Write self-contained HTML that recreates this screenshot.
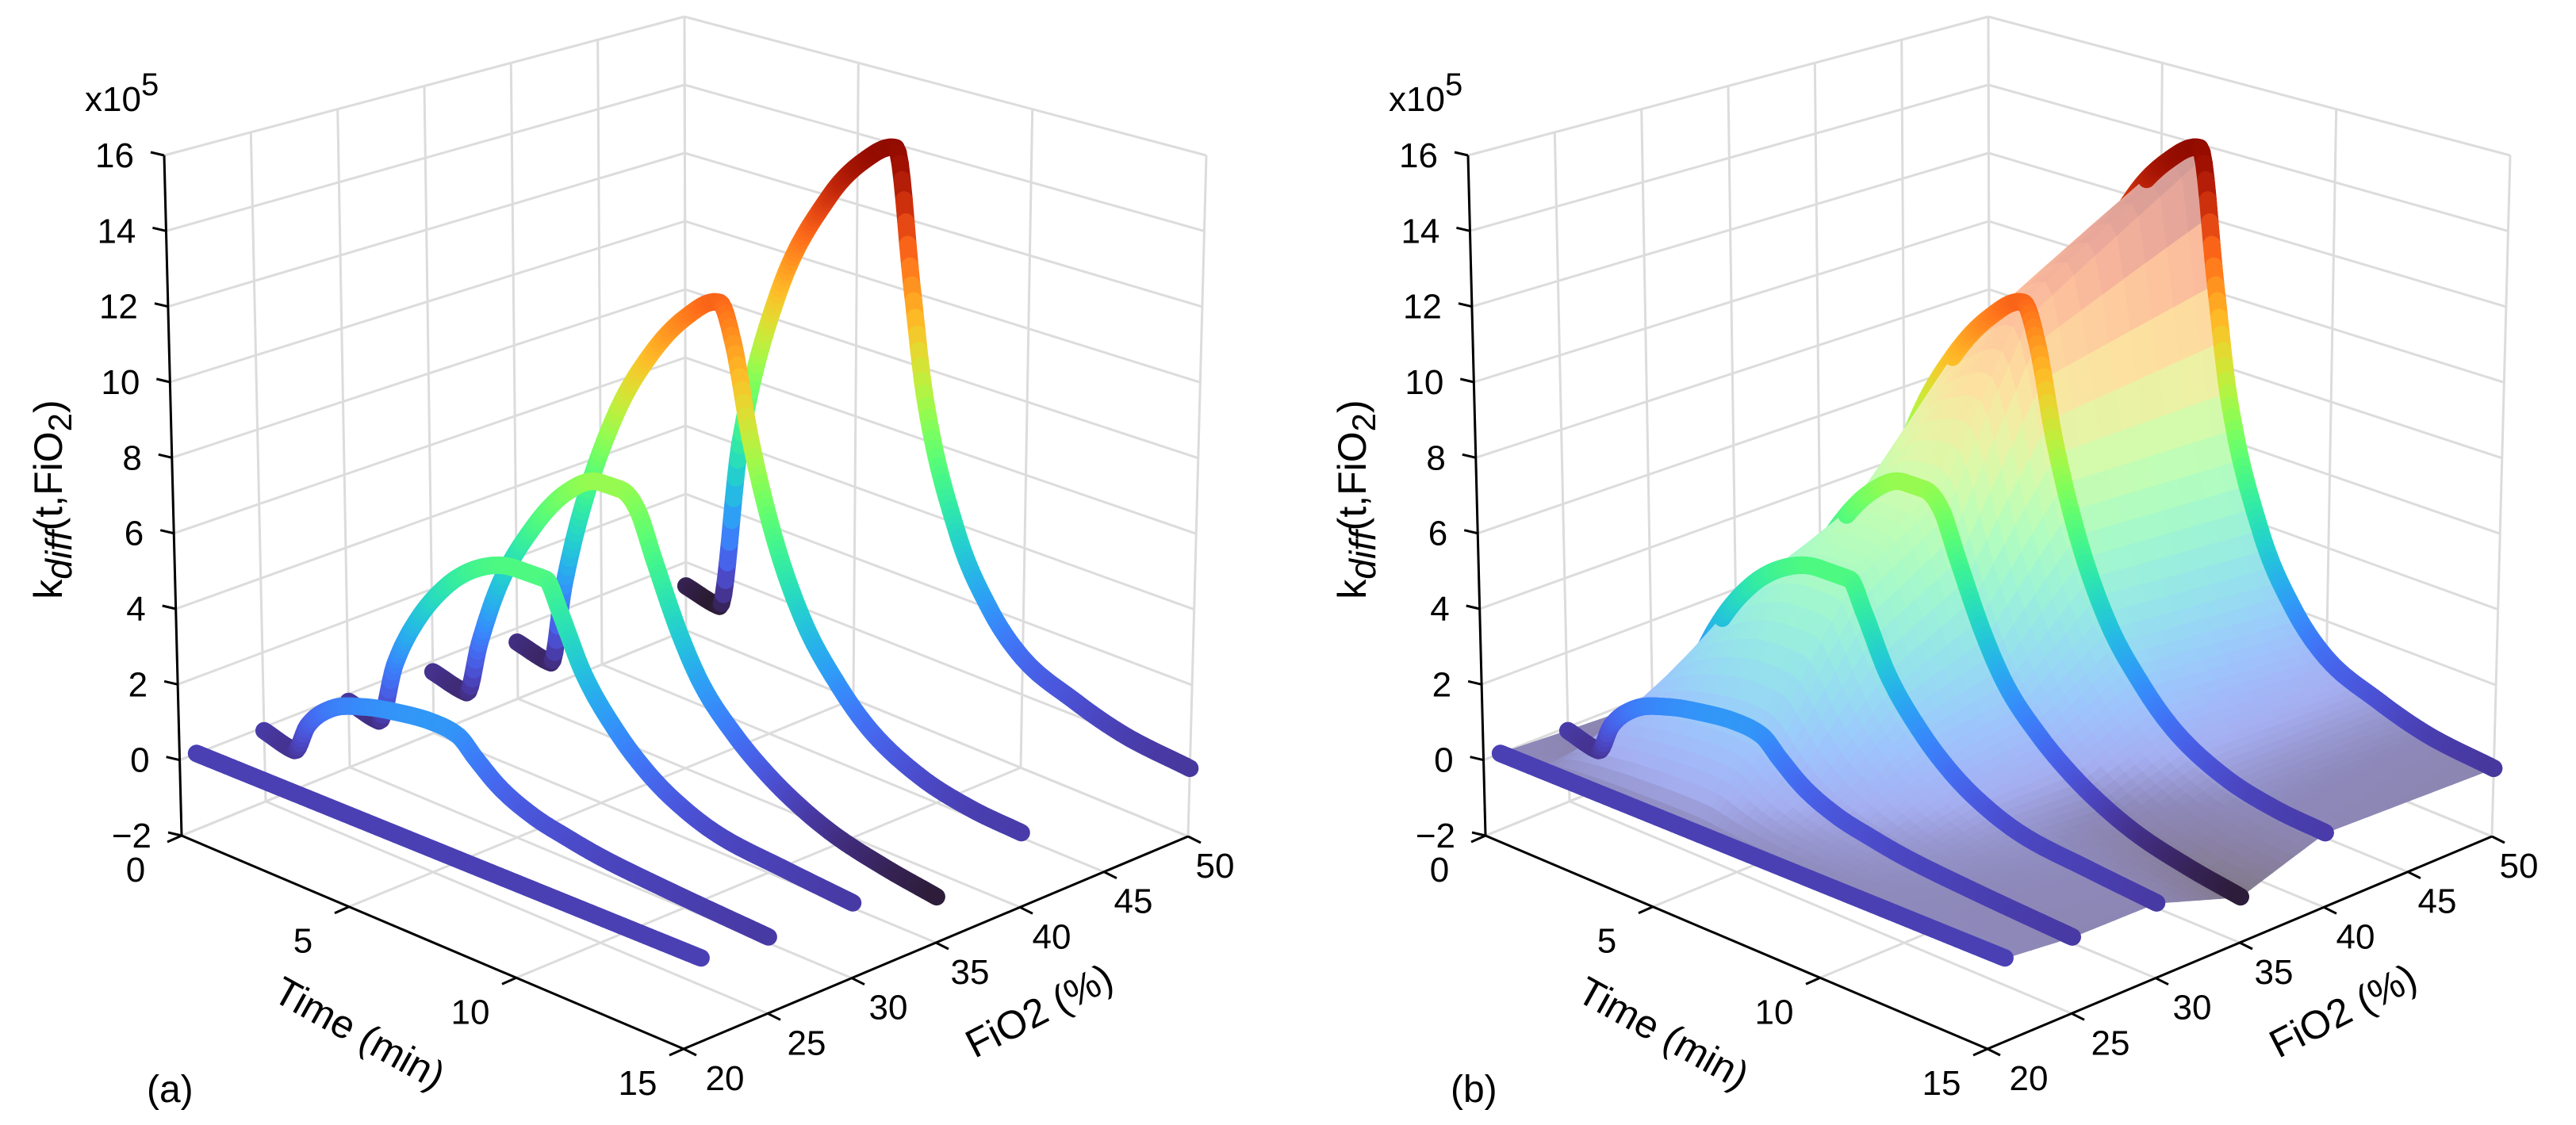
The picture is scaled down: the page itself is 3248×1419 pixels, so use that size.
<!DOCTYPE html>
<html><head><meta charset="utf-8">
<style>
html,body{margin:0;padding:0;background:#fff;}
svg{display:block;font-family:"Liberation Sans",Arial,sans-serif;}
</style></head>
<body>
<svg id="fig" width="3248" height="1419" viewBox="0 0 3248 1419" xmlns="http://www.w3.org/2000/svg">
<rect width="3248" height="1419" fill="#fff"/>
</svg>
<script>
// ---------- data ----------
const fio2Levels = [21, 25, 30, 35, 40, 50];
const t21 = [0, 5, 10, 15];
const k21 = [0, 0, 0, 0];
const t25 = [0, 0.9, 1.3, 2, 3, 4, 5, 5.8, 6.3, 7, 8, 9, 10, 12, 15];
const k25 = [-0.1, -0.3, 0.5, 1.2, 1.6, 1.8, 1.9, 1.8, 1.4, 0.9, 0.5, 0.3, 0.15, 0.0, -0.15];
const t30 = [0, 0.9, 1.4, 2, 3, 4, 5, 5.9, 6.3, 7, 8, 9, 10, 11, 13, 15];
const k30 = [-0.2, -0.4, 1.3, 2.6, 4.0, 4.8, 5.1, 5.1, 4.4, 3.0, 1.8, 1.0, 0.5, 0.2, 0.0, -0.15];
const t35 = [0, 1, 1.4, 2, 3, 4, 5, 5.6, 6.1, 6.6, 7.3, 8, 9, 10, 11, 12, 13.5, 15];
const k35 = [-0.3, -0.5, 1.0, 2.8, 4.7, 6.0, 6.6, 6.6, 6.2, 5.0, 3.4, 2.2, 1.2, 0.5, 0.0, -0.35, -0.65, -0.85];
const t40 = [0, 1, 1.4, 2, 3, 4, 5, 6.0, 6.4, 6.9, 7.6, 8.5, 9.5, 10.5, 12, 13.5, 15];
const k40 = [-0.4, -0.6, 1.7, 4.2, 7.1, 9.0, 10.3, 11.0, 10.0, 7.6, 5.2, 3.2, 1.9, 1.0, 0.3, 0.0, -0.1];
const t50 = [0, 1, 1.6, 2.7, 4.2, 5.2, 6.1, 6.6, 7.0, 8, 9, 10, 11.5, 13, 15];
const k50 = [-0.7, -0.9, 4.0, 8.7, 12.0, 13.3, 13.9, 10.2, 7.3, 3.8, 2.0, 1.0, 0.4, 0.0, -0.2];
const zTicks = [-2, 0, 2, 4, 6, 8, 10, 12, 14, 16];
const tTicks = [0, 5, 10, 15];
const fTicks = [20, 25, 30, 35, 40, 45, 50];

const curveT = [t21, t25, t30, t35, t40, t50];
const curveK = [k21, k25, k30, k35, k40, k50];

// ---------- projection ----------
const C = {
  '000':[229,1054], '100':[862,1323], '110':[1498,1055], '010':[865,795],
  '001':[207,196],  '101':[868,368],  '111':[1521,196],  '011':[863,21]
};
function proj(t, f, z, ox){
  const u=t/15, v=(f-20)/30, w=(z+2)/18;
  let x=0,y=0;
  for(const a of [0,1])for(const b of [0,1])for(const c of [0,1]){
    const wt=(a?u:1-u)*(b?v:1-v)*(c?w:1-w);
    const p=C[''+a+b+c]; x+=wt*p[0]; y+=wt*p[1];
  }
  return [x+ox,y];
}
function turbo(x){
  x=Math.max(0,Math.min(1,x));
  const r=0.13572138+x*(4.61539260+x*(-42.66032258+x*(132.13108234+x*(-152.94239396+x*59.28637943))));
  const g=0.09140261+x*(2.19418839+x*(4.84296658+x*(-14.18503333+x*(4.27729857+x*2.82956604))));
  const b=0.10667330+x*(12.64194608+x*(-60.58204836+x*(110.36276771+x*(-89.90310912+x*27.34824973))));
  return [r,g,b].map(c=>Math.round(255*Math.max(0,Math.min(1,c))));
}
const CMIN=-1, CMAX=14.2;
function cnorm(z){return (z-CMIN)/(CMAX-CMIN);}
function rgb(c){return 'rgb('+c[0]+','+c[1]+','+c[2]+')';}

function sample(ts, ks){
  const n=ts.length, d=[], m=[];
  for(let i=0;i<n-1;i++) d.push((ks[i+1]-ks[i])/(ts[i+1]-ts[i]));
  m.push(d[0]);
  for(let i=1;i<n-1;i++) m.push(d[i-1]*d[i]<=0?0:(d[i-1]+d[i])/2);
  m.push(d[n-2]);
  for(let i=0;i<n-1;i++){
    if(d[i]===0){m[i]=0;m[i+1]=0;continue;}
    const a=m[i]/d[i], b=m[i+1]/d[i], s=a*a+b*b;
    if(s>9){const tau=3/Math.sqrt(s); m[i]=tau*a*d[i]; m[i+1]=tau*b*d[i];}
  }
  const out=[];
  for(let i=0;i<n-1;i++){
    const h=ts[i+1]-ts[i];
    const steps=Math.max(4,Math.ceil(h*16));
    for(let s=0;s<steps;s++){
      const q=s/steps,q2=q*q,q3=q2*q;
      const y=(2*q3-3*q2+1)*ks[i]+(q3-2*q2+q)*h*m[i]+(-2*q3+3*q2)*ks[i+1]+(q3-q2)*h*m[i+1];
      out.push([ts[i]+q*h,y]);
    }
  }
  out.push([ts[n-1],ks[n-1]]);
  return out;
}
const sampled = curveT.map((ts,i)=>sample(ts,curveK[i]));
function valAt(i,t){
  const s=sampled[i];
  for(let j=0;j<s.length-1;j++){
    if(t>=s[j][0] && t<=s[j+1][0]){
      const d=s[j+1][0]-s[j][0]; const q=d>0?(t-s[j][0])/d:0;
      return s[j][1]+q*(s[j+1][1]-s[j][1]);
    }
  }
  return s[s.length-1][1];
}
const visFrac = [0, 0, 0.55, 0.78, 0.8, 0.9];

const NS='http://www.w3.org/2000/svg';
const svg=document.getElementById('fig');
function el(tag, attrs, parent){
  const e=document.createElementNS(NS,tag);
  for(const k in attrs) e.setAttribute(k,attrs[k]);
  (parent||svg).appendChild(e); return e;
}

function drawPanel(ox, label, withSurface){
  const g=el('g',{});
  
  
  const grid=el('g',{stroke:'#dcdcdc','stroke-width':3,fill:'none'},g);
  
  
  const line=(a,b,par,attrs)=>el('line',Object.assign({x1:a[0].toFixed(1),y1:a[1].toFixed(1),x2:b[0].toFixed(1),y2:b[1].toFixed(1)},attrs||{}),par);
  for(const f of fTicks){ const l=line(proj(0,f,-2,ox),proj(0,f,16,ox),grid);
      }
  for(const z of zTicks){ const l=line(proj(0,20,z,ox),proj(0,50,z,ox),grid);
     
    const l2=line(proj(0,50,z,ox),proj(15,50,z,ox),grid);
      }
  for(const t of tTicks){ const l=line(proj(t,50,-2,ox),proj(t,50,16,ox),grid);
     
    const l2=line(proj(t,20,-2,ox),proj(t,50,-2,ox),grid);
      }
  for(const f of fTicks){ const l=line(proj(0,f,-2,ox),proj(15,f,-2,ox),grid);
      }

  const ax=el('g',{stroke:'#000','stroke-width':3,fill:'none'},g);
  
  
  const za=line(proj(0,20,-2,ox),proj(0,20,16,ox),ax);
   
  const ta=line(proj(0,20,-2,ox),proj(15,20,-2,ox),ax);
   
  const fa=line(proj(15,20,-2,ox),proj(15,50,-2,ox),ax);
   

  const txt=(x,y,s,attrs,name)=>{const t=el('text',Object.assign({x:x.toFixed(1),y:y.toFixed(1),'font-size':44,fill:'#000'},attrs||{}),g);t.textContent=s;
      return t;};
  for(const z of zTicks){
    const p=proj(0,20,z,ox);
    const tk=line(p,[p[0]-17,p[1]-4],ax);  
    txt(p[0]-38,p[1]+15,(z<0?'\u2212':'')+Math.abs(z),{'text-anchor':'end'},'z-tick-label');
  }
  for(const t of tTicks){
    const p=proj(t,20,-2,ox);
    const tk=line(p,[p[0]-18,p[1]+8],ax);  
    txt(p[0]-58,p[1]+58,''+t,{'text-anchor':'middle'},'time-tick-label');
  }
  for(const f of fTicks){
    const p=proj(15,f,-2,ox);
    const tk=line(p,[p[0]+16,p[1]+8],ax);  
    txt(p[0]+52-(f-20)/30*18,p[1]+52,''+f,{'text-anchor':'middle'},'fio2-tick-label');
  }
  const ex=txt(ox+107,140,'x10',{'font-size':44},'z-exponent');
  const sup=el('tspan',{dy:-20,'font-size':40},ex); sup.textContent='5';
  const zt=el('text',{transform:'translate('+(ox+78)+',630) rotate(-90)','text-anchor':'middle','font-size':50},g);
   
  const a1=el('tspan',{},zt); a1.textContent='k';
  const a2=el('tspan',{'font-style':'italic',dy:12,'font-size':46},zt); a2.textContent='diff';
  const a3=el('tspan',{dy:-12},zt); a3.textContent='(t,FiO';
  const a4=el('tspan',{dy:12,'font-size':42},zt); a4.textContent='2';
  const a5=el('tspan',{dy:-12},zt); a5.textContent=')';
  const tt=el('text',{transform:'translate('+(ox+445)+',1318) rotate(29)','text-anchor':'middle','font-size':50},g);
  tt.textContent='Time (min)';  
  const ft=el('text',{transform:'translate('+(ox+1318)+',1290) rotate(-27)','text-anchor':'middle','font-size':50},g);
  ft.textContent='FiO2 (%)';  
  txt(ox+185,1390,label,{'font-size':48},'panel-label');

  const plot=el('g',{},g);
   
  const drawCurve=(i, partial)=>{
    const cg=el('g',{'stroke-width':22,'stroke-linecap':'round',fill:'none'},plot);
    
    
    const s=sampled[i], f=fio2Levels[i];
    let start=0;
    if(partial){
      let mx=-1e9, pk=0; for(let j=0;j<s.length;j++){ if(s[j][1]>mx){mx=s[j][1]; pk=j;} }
      start=pk;
      while(start>0 && s[start-1][1]>visFrac[i]*mx) start--;
      if(visFrac[i]===0) start=0;
    }
    for(let j=start;j<s.length-1;j++){
      const a=proj(s[j][0],f,s[j][1],ox), b=proj(s[j+1][0],f,s[j+1][1],ox);
      const zc=(s[j][1]+s[j+1][1])/2;
      const l=el('line',{x1:a[0].toFixed(1),y1:a[1].toFixed(1),x2:b[0].toFixed(1),y2:b[1].toFixed(1),stroke:rgb(turbo(cnorm(zc)))},cg);
       
    }
  };
  const drawStrip=(i)=>{
    const sg=el('g',{},plot);
    
    
    const f0=fio2Levels[i-1], f1=fio2Levels[i];
    const sub=8, dt=0.2;
    for(let s=sub-1;s>=0;s--){
      const q0=s/sub,q1=(s+1)/sub;
      for(let t=0;t<15-1e-9;t+=dt){
        const t2=Math.min(15,t+dt);
        const z00=valAt(i-1,t)*(1-q0)+valAt(i,t)*q0;
        const z01=valAt(i-1,t)*(1-q1)+valAt(i,t)*q1;
        const z10=valAt(i-1,t2)*(1-q0)+valAt(i,t2)*q0;
        const z11=valAt(i-1,t2)*(1-q1)+valAt(i,t2)*q1;
        const fa=f0+(f1-f0)*q0, fb=f0+(f1-f0)*q1;
        const pts=[proj(t,fa,z00,ox),proj(t,fb,z01,ox),proj(t2,fb,z11,ox),proj(t2,fa,z10,ox)];
        const zm=(z00+z01+z10+z11)/4, cn=cnorm(zm);
        const c=turbo(cn);
        const lt=Math.max(0,Math.min(1,cn));
        const shade=zm<0.6 ? 0.86+0.14*Math.max(0,zm/0.6) : 1;
        const mixW=0.5+0.1*lt;
        const col=[0,1,2].map(k=>Math.round((c[k]*(1-mixW)+252*mixW)*shade));
        const p=el('polygon',{points:pts.map(p=>p[0].toFixed(1)+','+p[1].toFixed(1)).join(' '),fill:rgb(col),stroke:rgb(col),'stroke-width':1.5},sg);
         
      }
    }
  };
  for(let i=fio2Levels.length-1;i>=0;i--){
    drawCurve(i,false);
    if(withSurface && i>0){ drawStrip(i); drawCurve(i,true); }
  }
}
drawPanel(0,'(a)',false);
drawPanel(1644,'(b)',true);
</script>
</body></html>
